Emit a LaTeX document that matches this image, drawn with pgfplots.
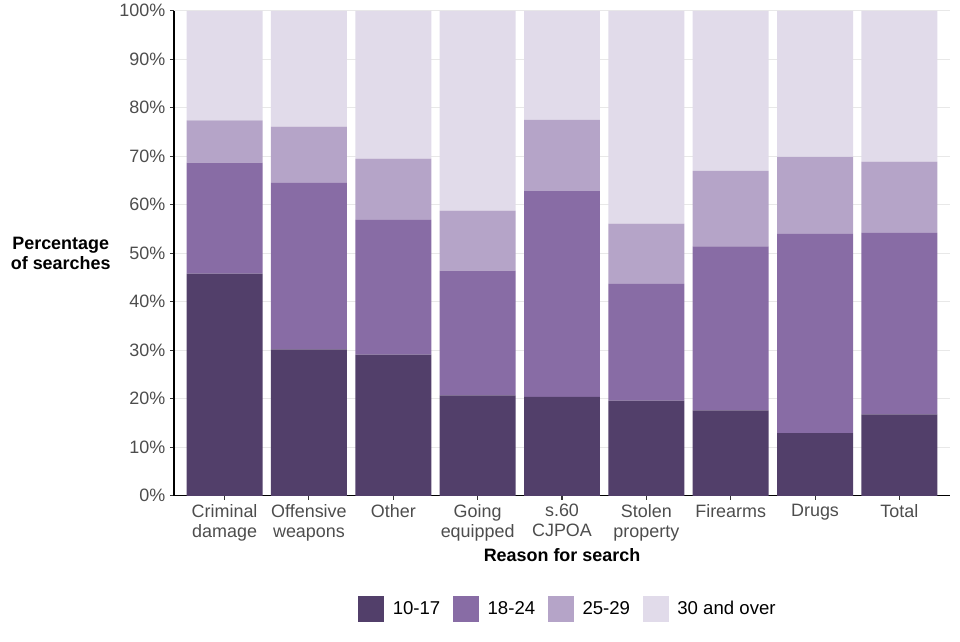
\documentclass[border=0pt]{standalone}
\usepackage{pgfplots}
\pgfplotsset{compat=1.18}
\usepackage{pgfplotstable}
\usepackage{fontspec}
\setmainfont{Liberation Sans}

\definecolor{ageA}{RGB}{82,63,106}
\definecolor{ageB}{RGB}{136,108,165}
\definecolor{ageC}{RGB}{181,164,200}
\definecolor{ageD}{RGB}{225,219,234}
\definecolor{tickgray}{RGB}{77,77,77}
\definecolor{gridgray}{RGB}{232,232,232}

% share of searches by age group, per reason
\pgfplotstableread{
x  a     b     c     d
0  45.8  22.9  8.7   22.6
1  30.2  34.3  11.6  23.9
2  29.1  27.8  12.6  30.5
3  20.7  25.7  12.4  41.2
4  20.4  42.4  14.7  22.5
5  19.6  24.1  12.4  43.9
6  17.6  33.8  15.6  33.0
7  12.9  41.1  15.9  30.1
8  16.8  37.4  14.7  31.1
}\searches

\begin{document}
\begin{tikzpicture}[font=\fontsize{13.5}{15.5}\selectfont]
\begin{axis}[
    at={(0,0)}, anchor=south west,
    scale only axis,
    width=582bp, height=363.75bp,
    ybar stacked, bar width=0.9, bar shift=0pt,
    xmin=-0.6, xmax=8.6,
    ymin=0, ymax=100,
    axis x line*=bottom, axis y line*=left,
    axis line style={black, line width=0.8pt},
    xtick=data,
    xticklabels={Criminal\\damage, Offensive\\weapons, Other, Going\\equipped,
                 s.60\\CJPOA, Stolen\\property, Firearms, Drugs, Total},
    xticklabel style={align=center, text=tickgray, font=\fontsize{13.5}{15}\selectfont},
    ytick={0,10,...,100},
    yticklabels={0\%,10\%,20\%,30\%,40\%,50\%,60\%,70\%,80\%,90\%,100\%},
    yticklabel style={text=tickgray},
    tick style={black!80, line width=0.8pt},
    tick align=outside, major tick length=3bp,
    ymajorgrids, grid style={gridgray, line width=1pt},
    xlabel={\textbf{Reason for search}},
    ylabel={\textbf{Percentage}\\\textbf{of searches}},
    ylabel style={rotate=-90, align=center, at={(-0.146,0.5)}, anchor=center},
    xlabel style={at={(0.5,-0.122)}, anchor=center},
    legend columns=4,
    legend style={at={(0.508,-0.233)}, anchor=center, draw=none,
        /tikz/every odd column/.append style={column sep=4.5bp},
        /tikz/every even column/.append style={column sep=7.5bp},
        font=\fontsize{14}{16}\selectfont},
    legend image code/.code={\fill[#1] (0bp,-9.75bp) rectangle (19.5bp,9.75bp);},
]
\addplot[fill=ageA, draw=none] table[x=x, y=a] {\searches};
\addplot[fill=ageB, draw=none] table[x=x, y=b] {\searches};
\addplot[fill=ageC, draw=none] table[x=x, y=c] {\searches};
\addplot[fill=ageD, draw=none] table[x=x, y=d] {\searches};
\legend{10-17, 18-24, 25-29, 30 and over}
\end{axis}
\path[use as bounding box] (-130.5bp,-109.5bp) rectangle (589.5bp,370.5bp);
\end{tikzpicture}
\end{document}
